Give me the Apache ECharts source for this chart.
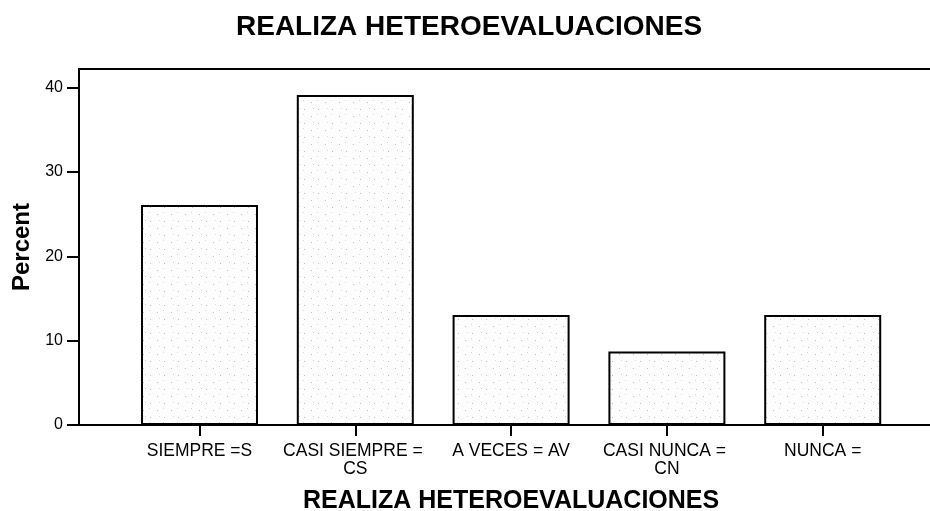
<!DOCTYPE html>
<html>
<head>
<meta charset="utf-8">
<title>REALIZA HETEROEVALUACIONES</title>
<script src="https://cdn.jsdelivr.net/npm/echarts@6/dist/echarts.min.js"></script>
<style>
  html, body { margin: 0; padding: 0; background: #fff; }
  #chart { width: 930px; height: 511px; }
</style>
</head>
<body>
<div id="chart"></div>
<script>
const categories = ['SIEMPRE =S', 'CASI SIEMPRE = CS', 'A VECES = AV', 'CASI NUNCA = CN', 'NUNCA ='];
const percents = [26.09, 39.13, 13.04, 8.70, 13.04];
const yTicks = [0, 10, 20, 30, 40];
const yMax = 42.2;

const font = 'Liberation Sans, Arial, Helvetica, sans-serif';

// light dotted fill, like the printed SPSS bars
function dotPattern() {
  const c = document.createElement('canvas');
  c.width = 14;
  c.height = 14;
  const ctx = c.getContext('2d');
  ctx.fillStyle = '#fdfdfd';
  ctx.fillRect(0, 0, 14, 14);
  ctx.fillStyle = '#bdbdbd';
  ctx.fillRect(3, 4, 1, 1);
  ctx.fillRect(10, 11, 1, 1);
  ctx.fillStyle = '#dadada';
  ctx.fillRect(9, 2, 1, 1);
  ctx.fillRect(5, 10, 1, 1);
  return c;
}

const chart = echarts.init(document.getElementById('chart'), null, { renderer: 'canvas' });

chart.setOption({
  animation: false,
  backgroundColor: '#fff',
  title: {
    text: 'REALIZA HETEROEVALUACIONES',
    left: 236,
    top: 13,
    padding: 0,
    textStyle: { fontFamily: font, fontSize: 28, fontWeight: 'bold', color: '#000' }
  },
  grid: [
    // frame
    { left: 79, right: -30, top: 69, bottom: 86, outerBoundsMode: 'none', show: true, borderColor: '#000', borderWidth: 2, backgroundColor: 'transparent' },
    // bars
    { left: 121.6, width: 779, top: 69, bottom: 86, outerBoundsMode: 'none' }
  ],
  xAxis: [
    {
      gridIndex: 0,
      type: 'value',
      min: 0,
      max: 1,
      axisLine: { show: true, lineStyle: { color: '#000', width: 2 } },
      axisTick: { show: false },
      axisLabel: { show: false },
      splitLine: { show: false }
    },
    {
      gridIndex: 1,
      type: 'category',
      data: categories,
      boundaryGap: true,
      name: 'REALIZA HETEROEVALUACIONES',
      nameLocation: 'middle',
      nameGap: 64,
      nameTextStyle: { fontFamily: font, fontSize: 25, fontWeight: 'bold', color: '#000' },
      axisLine: { show: false },
      axisTick: { show: true, alignWithLabel: true, length: 11, lineStyle: { color: '#000', width: 2 } },
      axisLabel: {
        interval: 0,
        margin: 17,
        width: 150,
        overflow: 'break',
        lineHeight: 18,
        fontFamily: font,
        fontSize: 17.5,
        color: '#000'
      }
    }
  ],
  yAxis: [
    {
      gridIndex: 0,
      type: 'value',
      min: 0,
      max: yMax,
      name: 'Percent',
      nameLocation: 'middle',
      nameRotate: 90,
      nameGap: 44,
      nameTextStyle: { fontFamily: font, fontSize: 24, fontWeight: 'bold', color: '#000' },
      axisLine: { show: true, lineStyle: { color: '#000', width: 2 } },
      axisTick: { show: true, length: 12, customValues: yTicks, lineStyle: { color: '#000', width: 2 } },
      axisLabel: { margin: 16, customValues: yTicks, fontFamily: font, fontSize: 16, color: '#000' },
      splitLine: { show: false }
    },
    {
      gridIndex: 1,
      type: 'value',
      min: 0,
      max: yMax,
      show: false
    }
  ],
  series: [
    {
      name: 'Percent',
      type: 'bar',
      xAxisIndex: 1,
      yAxisIndex: 1,
      data: percents,
      barWidth: 117,
      itemStyle: {
        color: { image: dotPattern(), repeat: 'repeat' },
        borderColor: '#000',
        borderWidth: 2
      }
    }
  ]
});
</script>
</body>
</html>
